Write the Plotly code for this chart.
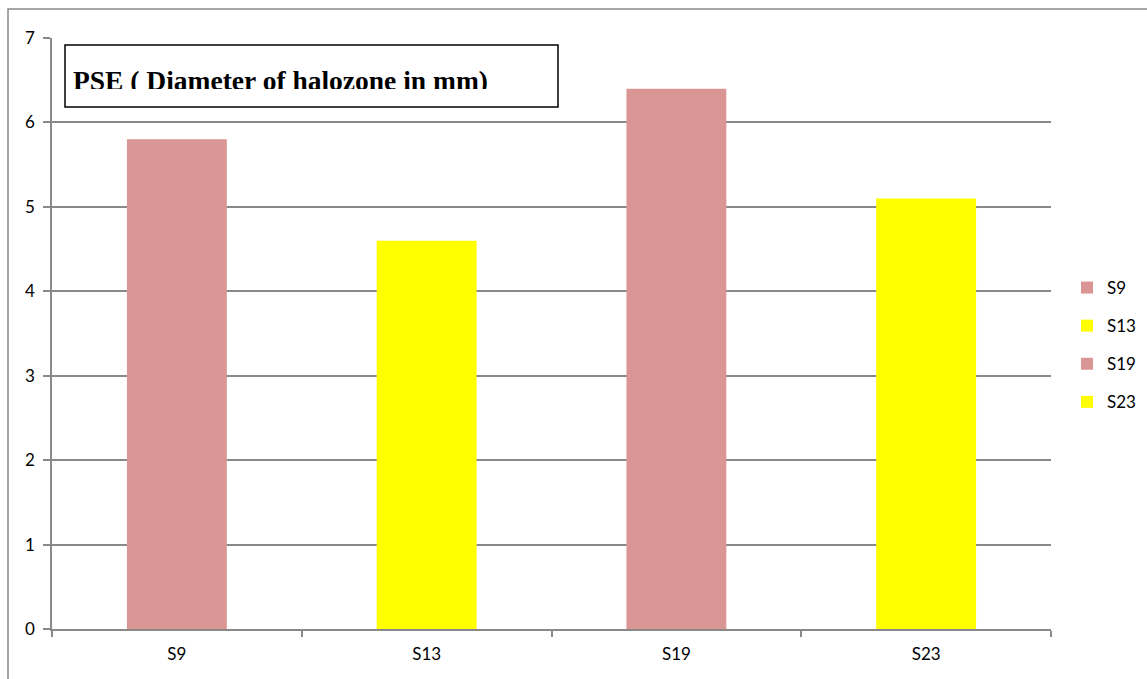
import plotly.graph_objects as go

categories = ["S9", "S13", "S19", "S23"]
values = [5.8, 4.6, 6.4, 5.1]
colors = ["#D99694", "#FFFF00", "#D99694", "#FFFF00"]
title_text = "PSE ( Diameter of halozone in mm)"

fig = go.Figure()
for c, v, col in zip(categories, values, colors):
    fig.add_trace(go.Bar(x=[c], y=[v], name=c, marker=dict(color=col, line=dict(width=0)),
                         width=0.4, legendgroup=c))

L, R, T, B = 52, 96, 38, 50
W, H = 1147, 679
pw, ph = W - L - R, H - T - B

def px(x):
    return (x - L) / pw

def py(y):
    return (H - B - y) / ph

grey = "#898989"
fig.update_layout(
    width=W, height=H,
    margin=dict(l=L, r=R, t=T, b=B, autoexpand=False),
    paper_bgcolor="white", plot_bgcolor="white",
    font=dict(family="Lato, sans-serif", size=17, color="black"),
    barmode="overlay",
    showlegend=True,
    legend=dict(x=px(1067), y=py(270), xanchor="left", yanchor="top",
                tracegroupgap=13, font=dict(size=17), bgcolor="rgba(0,0,0,0)"),
    xaxis=dict(type="category", categoryorder="array", categoryarray=categories,
               range=[-0.5, 3.5],
               showline=True, linecolor=grey, linewidth=1.5,
               ticks="outside", tickson="boundaries", ticklen=6, tickcolor=grey, tickwidth=1.5,
               showgrid=False, ticklabelstandoff=9),
    yaxis=dict(range=[0, 7], dtick=1, showline=True, linecolor=grey, linewidth=1.5,
               ticks="outside", ticklen=7, tickcolor=grey, tickwidth=1.5,
               showgrid=True, gridcolor=grey, gridwidth=1.5, zeroline=False,
               ticklabelstandoff=5),
    shapes=[
        dict(type="rect", xref="paper", yref="paper",
             x0=px(8), x1=px(1200), y0=py(700), y1=py(9),
             line=dict(color=grey, width=1.5), layer="below"),
        dict(type="rect", xref="paper", yref="paper",
             x0=px(65), x1=px(558), y0=py(107), y1=py(45),
             line=dict(color="black", width=1.5), fillcolor="white", layer="above"),
    ],
    annotations=[
        dict(text="<b>" + title_text + "</b>", xref="paper", yref="paper",
             x=px(71), y=py(81), xanchor="left", yanchor="middle", showarrow=False,
             font=dict(family="Liberation Serif, Times New Roman, serif", size=27.5, color="black")),
        dict(text="", xref="paper", yref="paper", width=480, height=17,
             x=px(70), y=py(89), xanchor="left", yanchor="top", showarrow=False,
             bgcolor="white", borderpad=0, borderwidth=0),
    ],
)

fig.write_html("out.html")
